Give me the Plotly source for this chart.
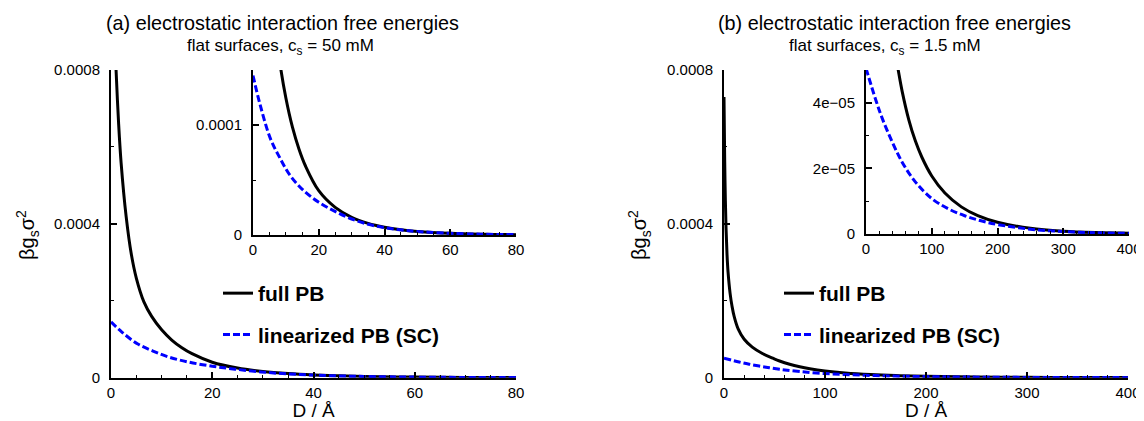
import plotly.graph_objects as go

# (a) flat surfaces, c_s = 50 mM  -- free energy vs separation D (Angstrom)
d_full_a = [0.8, 1, 1.5, 2, 3, 4, 5, 6.5, 8, 10, 12, 14, 16, 20, 25, 30, 35, 40, 45,
            50, 60, 70, 80]
g_full_a = [8.7e-4, 8.0e-4, 6.62e-4, 5.58e-4, 4.18e-4, 3.22e-4, 2.59e-4, 1.97e-4, 1.60e-4,
            1.245e-4, 9.8e-5, 7.8e-5, 6.25e-5, 4.03e-5, 2.51e-5, 1.61e-5, 1.06e-5, 7.1e-6,
            4.8e-6, 3.27e-6, 1.53e-6, 7.2e-7, 3.4e-7]
d_lin_a = [0, 2.2, 5.3, 8.3, 11.3, 15.4, 20, 24.5, 29.6, 34.7, 39.7, 44.8, 50, 60, 70, 80]
g_lin_a = [1.45e-4, 1.18e-4, 8.76e-5, 6.94e-5, 5.41e-5, 4.04e-5, 2.98e-5, 2.22e-5,
           1.5e-5, 1.0e-5, 6.8e-6, 4.7e-6, 3.2e-6, 1.5e-6, 7e-7, 3.3e-7]

# (b) flat surfaces, c_s = 1.5 mM
d_full_b = [0, 0.5, 1, 2, 3, 4, 6, 8, 10, 14, 20, 28, 38, 49, 55, 65, 75, 85, 100,
            120, 145, 170, 200, 250, 300, 350, 400]
g_full_b = [7.3e-4, 6.1e-4, 5.1e-4, 3.9e-4, 3.2e-4, 2.75e-4, 2.2e-4, 1.85e-4, 1.6e-4,
            1.27e-4, 1.0e-4, 7.95e-5, 6.3e-5, 5.0e-5, 4.35e-5, 3.49e-5, 2.84e-5, 2.34e-5,
            1.77e-5, 1.25e-5, 8.27e-6, 5.6e-6, 3.6e-6, 1.74e-6, 8.5e-7, 4.2e-7, 2.1e-7]
d_lin_b = [0, 15, 25, 40, 55, 75, 100, 125, 150, 175, 200, 250, 300, 350, 400]
g_lin_b = [5.05e-5, 4.08e-5, 3.51e-5, 2.80e-5, 2.19e-5, 1.59e-5, 1.08e-5, 7.7e-6,
           5.57e-6, 4.03e-6, 2.88e-6, 1.46e-6, 7.5e-7, 3.8e-7, 1.9e-7]

# tick labels
main_y_vals = [0, 0.0004, 0.0008]
main_y_text = ["0", "0.0004", "0.0008"]
inset_a_y_vals = [0, 0.0001]
inset_a_y_text = ["0", "0.0001"]
inset_b_y_vals = [0, 2e-05, 4e-05]
inset_b_y_text = ["0", "2e\u221205", "4e\u221205"]
x_vals_a = [0, 20, 40, 60, 80]
x_vals_b = [0, 100, 200, 300, 400]

OFF = 8  # the page body adds an 8px margin around the figure
W, H = 1144 - OFF, 421 - OFF
FONT = "Liberation Sans, Arial, Helvetica, sans-serif"


def px(x):
    return (x - OFF) / W


def py(y):
    return 1 - (y - OFF) / H


def dom_x(left, right):
    return [px(left), px(right)]


def dom_y(top, bottom):
    return [py(bottom), py(top)]


def axis(**kw):
    base = dict(showline=True, linecolor="black", linewidth=2, mirror=False,
                ticks="inside", ticklen=6, tickwidth=1.5, tickcolor="black",
                showgrid=False, zeroline=False, automargin=False,
                tickfont=dict(size=15, color="black"),
                minor=dict(ticks="inside", ticklen=3, tickwidth=1.2, tickcolor="black"))
    minor = kw.pop("minor", {})
    base["minor"].update(minor)
    base.update(kw)
    return base


full_style = dict(color="black", width=3)
lin_style = dict(color="#0000ff", width=3, dash="7px,3px")

fig = go.Figure()

# main panels
fig.add_trace(go.Scatter(x=d_full_a, y=g_full_a, mode="lines", line=full_style, line_shape="spline",
                         name="full PB", legend="legend", legendgroup="a1", xaxis="x", yaxis="y"))
fig.add_trace(go.Scatter(x=d_lin_a, y=g_lin_a, mode="lines", line=lin_style, line_shape="spline",
                         name="linearized PB (SC)", legend="legend", legendgroup="a2", xaxis="x", yaxis="y"))
fig.add_trace(go.Scatter(x=d_full_b, y=g_full_b, mode="lines", line=full_style, line_shape="spline",
                         name="full PB", legend="legend2", legendgroup="b1", xaxis="x2", yaxis="y2"))
fig.add_trace(go.Scatter(x=d_lin_b, y=g_lin_b, mode="lines", line=lin_style, line_shape="spline",
                         name="linearized PB (SC)", legend="legend2", legendgroup="b2", xaxis="x2", yaxis="y2"))

# insets
fig.add_trace(go.Scatter(x=d_full_a, y=g_full_a, mode="lines", line=full_style, line_shape="spline",
                         showlegend=False, xaxis="x3", yaxis="y3"))
fig.add_trace(go.Scatter(x=d_lin_a, y=g_lin_a, mode="lines", line=lin_style, line_shape="spline",
                         showlegend=False, xaxis="x3", yaxis="y3"))
fig.add_trace(go.Scatter(x=d_full_b, y=g_full_b, mode="lines", line=full_style, line_shape="spline",
                         showlegend=False, xaxis="x4", yaxis="y4"))
fig.add_trace(go.Scatter(x=d_lin_b, y=g_lin_b, mode="lines", line=lin_style, line_shape="spline",
                         showlegend=False, xaxis="x4", yaxis="y4"))

xtitle = dict(text="D / \u00c5", font=dict(size=19, color="black"), standoff=2)

legend_style = dict(bgcolor="rgba(0,0,0,0)", borderwidth=0, xanchor="left", yanchor="top",
                    font=dict(size=21, color="black", family=FONT, weight="bold"),
                    tracegroupgap=11, traceorder="grouped", itemwidth=30)

fig.update_layout(
    width=W, height=H, autosize=False,
    margin=dict(l=0, r=0, t=0, b=0, autoexpand=False),
    paper_bgcolor="white", plot_bgcolor="white",
    font=dict(family=FONT, color="black"),
    showlegend=True,
    xaxis=axis(domain=dom_x(111, 516), range=[0, 80], tickvals=x_vals_a, anchor="y",
               minor=dict(dtick=5, tick0=0), title=xtitle),
    yaxis=axis(domain=dom_y(70, 377.7), range=[0, 0.0008], tickvals=main_y_vals,
               ticktext=main_y_text, anchor="x", ticklabelstandoff=6,
               minor=dict(dtick=0.0002, tick0=0)),
    xaxis2=axis(domain=dom_x(724, 1128), range=[0, 400], tickvals=x_vals_b, anchor="y2",
                minor=dict(dtick=20, tick0=0), title=xtitle),
    yaxis2=axis(domain=dom_y(70, 377.7), range=[0, 0.0008], tickvals=main_y_vals,
                ticktext=main_y_text, anchor="x2", ticklabelstandoff=6,
                minor=dict(dtick=0.0002, tick0=0)),
    xaxis3=axis(domain=dom_x(253, 516), range=[0, 80], tickvals=x_vals_a, anchor="y3",
                minor=dict(dtick=5, tick0=0)),
    yaxis3=axis(domain=dom_y(70, 235), range=[0, 0.00015], tickvals=inset_a_y_vals,
                ticktext=inset_a_y_text, anchor="x3", ticklabelstandoff=6,
                minor=dict(dtick=0.00005, tick0=0)),
    xaxis4=axis(domain=dom_x(866, 1129), range=[0, 400], tickvals=x_vals_b, anchor="y4",
                minor=dict(dtick=20, tick0=0)),
    yaxis4=axis(domain=dom_y(70, 234), range=[0, 5e-05], tickvals=inset_b_y_vals,
                ticktext=inset_b_y_text, anchor="x4", ticklabelstandoff=6,
                minor=dict(dtick=1e-05, tick0=0)),
    legend=dict(legend_style, x=px(218), y=py(273)),
    legend2=dict(legend_style, x=px(779), y=py(273)),
)

titles = [
    (282, 23, "(a) electrostatic interaction free energies", 19.8),
    (280, 47, "flat surfaces, c<sub>s</sub> = 50 mM", 17),
    (894, 23, "(b) electrostatic interaction free energies", 19.8),
    (885, 47, "flat surfaces, c<sub>s</sub> = 1.5 mM", 17),
]
for cx, cy, txt, size in titles:
    fig.add_annotation(x=px(cx), y=py(cy), xref="paper", yref="paper", text=txt,
                       showarrow=False, xanchor="center", yanchor="middle",
                       font=dict(size=size, color="black"))

# y axis titles, rotated
for cx in (28, 640):
    fig.add_annotation(x=px(cx), y=py(235), xref="paper", yref="paper",
                       text="\u03b2g<sub>s</sub>\u03c3<sup>2</sup>", textangle=-90,
                       showarrow=False, xanchor="center", yanchor="middle",
                       font=dict(size=20, color="black"))

fig.write_html("out.html")
